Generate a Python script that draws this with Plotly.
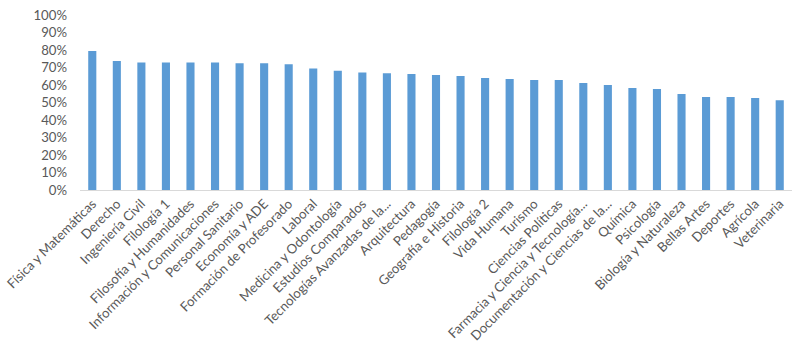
import plotly.graph_objects as go

categories = [
    "Física y Matemáticas", "Derecho", "Ingeniería Civil", "Filología 1",
    "Filosofía y Humanidades", "Información y Comunicaciones", "Personal Sanitario",
    "Economía y ADE", "Formación de Profesorado", "Laboral", "Medicina y Odontología",
    "Estudios Comparados", "Tecnologías Avanzadas de la...", "Arquitectura", "Pedagogía",
    "Geografía e Historia", "Filología 2", "Vida Humana", "Turismo", "Ciencias Políticas",
    "Farmacia y Ciencia y Tecnología...", "Documentación y Ciencias de la...", "Química",
    "Psicología", "Biología y Naturaleza", "Bellas Artes", "Deportes", "Agrícola", "Veterinaria",
]
values = [
    0.794, 0.737, 0.729, 0.729, 0.729, 0.729, 0.724, 0.724, 0.718, 0.695,
    0.682, 0.672, 0.667, 0.663, 0.657, 0.651, 0.640, 0.634, 0.629, 0.629,
    0.611, 0.600, 0.583, 0.577, 0.549, 0.531, 0.531, 0.526, 0.513,
]
y_ticks = [i / 10 for i in range(11)]

fig = go.Figure(go.Bar(x=categories, y=values, marker_color="#5B9BD5",
                       marker_line_width=0))
font = dict(family="Lato, Open Sans, sans-serif", size=13.2, color="#595959")
fig.update_layout(
    width=800, height=352,
    margin=dict(l=80, r=8, t=15, b=162, autoexpand=False),
    paper_bgcolor="white", plot_bgcolor="white",
    bargap=0.67, showlegend=False, font=font,
)
fig.update_xaxes(tickangle=-45, showline=True, linecolor="#D9D9D9", linewidth=1,
                 showgrid=False, ticks="", tickfont=font, automargin=False)
fig.update_yaxes(range=[0, 1], tickvals=y_ticks, tickformat=".0%", showgrid=False,
                 zeroline=False, showline=False, ticks="", tickfont=font,
                 ticklabelstandoff=12, automargin=False)
fig.write_html("out.html")
